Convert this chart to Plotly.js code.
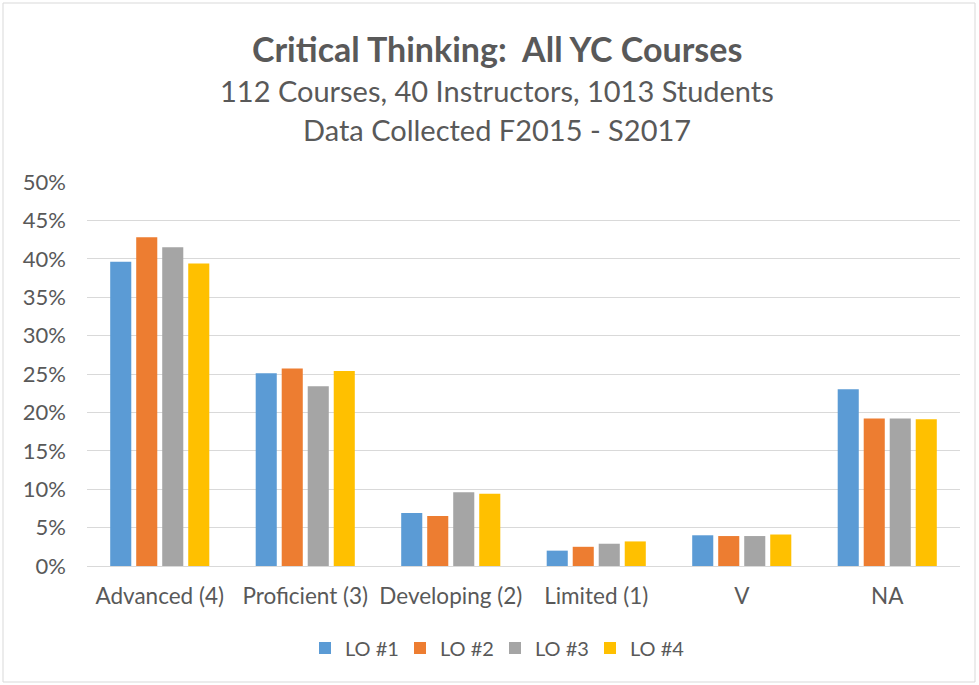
<!DOCTYPE html>
<html>
<head>
<meta charset="utf-8">
<script src="https://cdn.plot.ly/plotly-3.0.1.min.js"></script>
<style>html,body{margin:0;padding:0;background:#fff;}#chart{width:979px;height:685px;}</style>
</head>
<body>
<div id="chart"></div>
<script>
const categories = ["Advanced (4)", "Proficient (3)", "Developing (2)", "Limited (1)", "V", "NA"];
const seriesNames = ["LO #1", "LO #2", "LO #3", "LO #4"];
const lo1 = [39.6, 25.1, 6.9, 2.0, 4.0, 23.0];
const lo2 = [42.8, 25.7, 6.5, 2.5, 3.9, 19.2];
const lo3 = [41.5, 23.4, 9.6, 2.9, 3.9, 19.2];
const lo4 = [39.4, 25.4, 9.4, 3.2, 4.1, 19.1];
const colors = ["#5B9BD5", "#ED7D31", "#A5A5A5", "#FFC000"];
const yTickVals = [0, 5, 10, 15, 20, 25, 30, 35, 40, 45, 50];
const yTickText = ["0%", "5%", "10%", "15%", "20%", "25%", "30%", "35%", "40%", "45%", "50%"];

const font = "Lato, 'Open Sans', sans-serif";
const allSeries = [lo1, lo2, lo3, lo4];
const traces = allSeries.map((vals, i) => ({
  type: "bar",
  name: seriesNames[i],
  x: categories,
  y: vals,
  marker: {color: colors[i]},
  hoverinfo: "x+y+name"
}));

const layout = {
  width: 979, height: 685,
  margin: {l: 87, r: 19, t: 182, b: 119},
  paper_bgcolor: "#fff", plot_bgcolor: "#fff",
  barmode: "group",
  bargap: 0.285,
  bargroupgap: 0.19,
  font: {family: font, color: "#595959", size: 22},
  xaxis: {
    type: "category",
    showgrid: false,
    showline: true, linecolor: "#d9d9d9", linewidth: 1,
    ticks: "", tickfont: {size: 22.5, color: "#595959", family: font},
    ticklabelstandoff: 10,
    zeroline: false
  },
  yaxis: {
    range: [0, 50],
    tickvals: yTickVals, ticktext: yTickText,
    showgrid: true, gridcolor: "#d9d9d9", gridwidth: 1,
    showline: false, zeroline: false,
    ticks: "", tickfont: {size: 22, color: "#595959", family: font},
    ticklabelstandoff: 20
  },
  showlegend: true,
  legend: {
    orientation: "h", x: (495-87)/873, xanchor: "center", y: -0.2135, yanchor: "middle",
    font: {size: 20, color: "#595959", family: font},
    itemwidth: 30, entrywidth: 50, entrywidthmode: "pixels", traceorder: "normal"
  },
  annotations: [
    {text: "<b>Critical Thinking:  All YC Courses</b>", xref: "paper", yref: "paper",
     x: (497-87)/873, y: (566-48)/384, xanchor: "center", yanchor: "middle", showarrow: false,
     font: {size: 34, color: "#595959", family: font}},
    {text: "112 Courses, 40 Instructors, 1013 Students", xref: "paper", yref: "paper",
     x: (497-87)/873, y: (566-91)/384, xanchor: "center", yanchor: "middle", showarrow: false,
     font: {size: 29, color: "#595959", family: font}},
    {text: "Data Collected F2015 - S2017", xref: "paper", yref: "paper",
     x: (497-87)/873, y: (566-129)/384, xanchor: "center", yanchor: "middle", showarrow: false,
     font: {size: 29, color: "#595959", family: font}}
  ],
  shapes: [
    {type: "rect", xref: "paper", yref: "paper",
     x0: (3-87)/873, x1: (975-87)/873, y0: (566-682)/384, y1: (566-3)/384,
     line: {color: "#d9d9d9", width: 1}, fillcolor: "rgba(0,0,0,0)", layer: "below"}
  ]
};

Plotly.newPlot("chart", traces, layout, {displayModeBar: false, staticPlot: true});
</script>
</body>
</html>
